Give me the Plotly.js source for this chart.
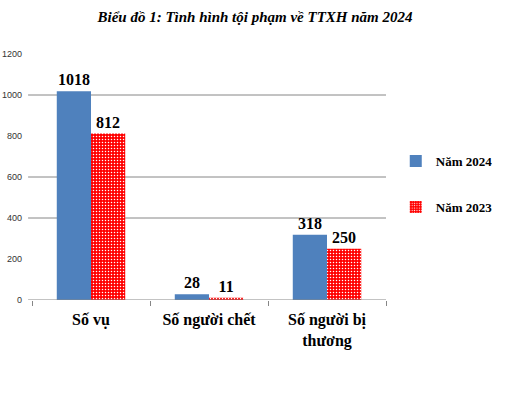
<!DOCTYPE html>
<html>
<head>
<meta charset="utf-8">
<script src="https://cdn.plot.ly/plotly-3.0.1.min.js"></script>
<style>html,body{margin:0;padding:0;background:#fff;}#chart{width:510px;height:399px;}</style>
</head>
<body>
<div id="chart"></div>
<script>
const categories = ["Số vụ", "Số người chết", "Số người bị<br>thương"];
const series2024 = [1018, 28, 318];
const series2023 = [812, 11, 250];
const seriesNames = ["Năm 2024", "Năm 2023"];
const yTickValues = [0, 200, 400, 600, 800, 1000, 1200];
const gridValues = [400, 600, 1000];

const serif = "'Liberation Serif', 'Times New Roman', serif";
const textFont = {family: serif, size: 16, color: "#000", weight: "bold"};

const traces = [
  {
    type: "bar", name: seriesNames[0], x: categories, y: series2024,
    marker: {color: "#4F81BD"},
    text: series2024.map(String), textposition: "outside", textfont: textFont,
    constraintext: "none", cliponaxis: false, legendgroup: "a", hoverinfo: "none"
  },
  {
    type: "bar", name: seriesNames[1], x: categories, y: series2023,
    marker: {color: "#FF0000", pattern: {shape: ".", bgcolor: "#FF0000", fgcolor: "#FFFFFF", size: 3, solidity: 0.2, fillmode: "replace"}},
    text: series2023.map(String), textposition: "outside", textfont: textFont,
    constraintext: "none", cliponaxis: false, legendgroup: "b", hoverinfo: "none"
  }
];

const shapes = gridValues.map(v => ({
  type: "line", xref: "paper", yref: "y", x0: -0.011, x1: 1, y0: v, y1: v,
  line: {color: "#868686", width: 1}, layer: "below"
}));
shapes.push({type: "line", xref: "paper", yref: "y", x0: -0.011, x1: 1, y0: 0, y1: 0,
  line: {color: "#868686", width: 1}, layer: "above"});

const layout = {
  width: 510, height: 399,
  margin: {l: 32, r: 124, t: 54, b: 99, pad: 0, autoexpand: false},
  paper_bgcolor: "#fff", plot_bgcolor: "#fff",
  title: {
    text: "Biểu đồ 1: Tình hình tội phạm về TTXH năm 2024",
    font: {family: serif, size: 15, color: "#000", weight: "bold", style: "italic"},
    x: 0.5, xanchor: "center", y: 0.957, yanchor: "middle"
  },
  barmode: "group", bargap: 0.42, bargroupgap: 0,
  xaxis: {
    type: "category", range: [-0.5, 2.5], showgrid: false, zeroline: false, showline: false,
    ticks: "outside", tickson: "boundaries", ticklen: 5, tickcolor: "#868686", tickwidth: 1,
    tickfont: {family: serif, size: 16, color: "#000", weight: "bold"},
    ticklabelstandoff: 8
  },
  yaxis: {
    range: [0, 1200], tickvals: yTickValues, ticktext: yTickValues.map(String),
    showgrid: false, zeroline: false, showline: false, ticks: "",
    tickfont: {family: "'Liberation Sans', Arial, sans-serif", size: 9, color: "#333"},
    ticklabelstandoff: 9
  },
  shapes: shapes,
  showlegend: true,
  legend: {
    xref: "container", yref: "container",
    x: 0.776, xanchor: "left", y: 0.634, yanchor: "top",
    font: {family: serif, size: 13, color: "#000", weight: "bold"},
    tracegroupgap: 26, itemwidth: 30, bgcolor: "rgba(0,0,0,0)",
    traceorder: "grouped"
  }
};

Plotly.newPlot("chart", traces, layout, {staticPlot: true, displayModeBar: false});
</script>
</body>
</html>
